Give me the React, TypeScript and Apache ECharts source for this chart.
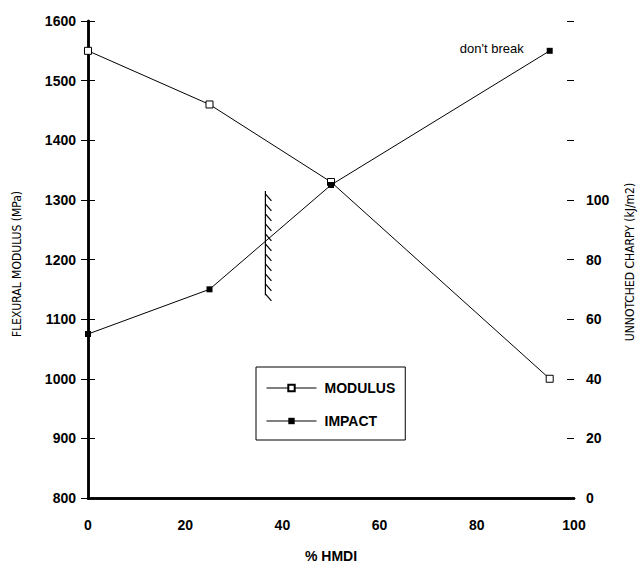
import React, { useEffect, useRef } from "react";
import * as echarts from "echarts";

const hmdi = [0, 25, 50, 95];
const modulus = [1550, 1460, 1330, 1000];
const impact = [55, 70, 105, 150];
const barrier = [[36.5, 1140, 1315]];
const breakNote = "don't break";
const leftTitle = "FLEXURAL MODULUS (MPa)";
const rightTitle = "UNNOTCHED CHARPY (kJ/m2)";

const FONT = "Liberation Sans, Arial, sans-serif";
const NARROW = "DejaVu Sans Condensed, Liberation Sans Narrow, sans-serif";

export default function App() {
  const ref = useRef<HTMLDivElement>(null);
  useEffect(() => {
    if (!ref.current) return;
    const chart = echarts.init(ref.current, null, { renderer: "svg" });
    const labelStyle = { color: "#000", fontFamily: FONT, fontWeight: "bold" as const, fontSize: 14 };
    const option: any = {
      animation: false,
      backgroundColor: "#fff",
      grid: { left: 88, right: 67, top: 21, bottom: 63, containLabel: false },
      legend: {
        left: 256,
        top: 367,
        orient: "vertical",
        data: ["MODULUS", "IMPACT"],
        itemWidth: 50,
        itemHeight: 8,
        itemGap: 19,
        borderColor: "#000",
        borderWidth: 1,
        padding: [14, 10, 12, 10],
        lineStyle: { width: 1, color: "#000" },
        textStyle: { color: "#000", fontFamily: FONT, fontWeight: "bold", fontSize: 14, padding: [0, 0, 0, 3] },
      },
      xAxis: [
        {
          type: "value",
          min: 0,
          max: 100,
          interval: 20,
          position: "bottom",
          name: "% HMDI",
          nameLocation: "middle",
          nameGap: 51,
          nameTextStyle: { ...labelStyle, fontSize: 14 },
          axisLine: { show: true, lineStyle: { color: "#000", width: 2.5 } },
          axisTick: { show: false },
          axisLabel: { ...labelStyle, margin: 20, formatter: (v: number) => String(v) },
          splitLine: { show: false },
        },
        {
          type: "value",
          min: 0,
          max: 100,
          position: "top",
          axisLine: { show: true, lineStyle: { color: "#000", width: 2.5 } },
          axisTick: { show: false },
          axisLabel: { show: false },
          splitLine: { show: false },
        },
      ],
      yAxis: [
        {
          type: "value",
          min: 800,
          max: 1600,
          interval: 100,
          position: "left",
          axisLine: { show: true, lineStyle: { color: "#000", width: 2.5 } },
          axisTick: { show: true, length: 7, lineStyle: { color: "#000", width: 1 } },
          axisLabel: { ...labelStyle, margin: 12, formatter: (v: number) => String(v) },
          splitLine: { show: false },
        },
        {
          type: "value",
          min: 0,
          max: 160,
          interval: 20,
          position: "right",
          axisLine: { show: true, lineStyle: { color: "#000", width: 2.5 } },
          axisTick: { show: true, length: 7, lineStyle: { color: "#000", width: 1 } },
          axisLabel: { ...labelStyle, margin: 12, formatter: (v: number) => (v <= 100 ? String(v) : "") },
          splitLine: { show: false },
        },
        {
          type: "value",
          min: 800,
          max: 1600,
          interval: 100,
          position: "left",
          axisLine: { show: false },
          axisTick: { show: true, inside: true, length: 7, lineStyle: { color: "#000", width: 1 } },
          axisLabel: { show: false },
          splitLine: { show: false },
        },
        {
          type: "value",
          min: 0,
          max: 160,
          interval: 20,
          position: "right",
          axisLine: { show: false },
          axisTick: { show: true, inside: true, length: 7, lineStyle: { color: "#000", width: 1 } },
          axisLabel: { show: false },
          splitLine: { show: false },
        },
      ],
      graphic: [
        {
          type: "text",
          x: 17,
          y: 264,
          rotation: Math.PI / 2,
          style: { text: leftTitle, fill: "#000", font: `12px ${NARROW}`, align: "center", verticalAlign: "middle" },
        },
        {
          type: "text",
          x: 630,
          y: 262,
          rotation: Math.PI / 2,
          style: { text: rightTitle, fill: "#000", font: `12px ${NARROW}`, align: "center", verticalAlign: "middle" },
        },
      ],
      series: [
        {
          name: "MODULUS",
          type: "line",
          xAxisIndex: 0,
          yAxisIndex: 0,
          data: hmdi.map((x, i) => [x, modulus[i]]),
          symbol: "rect",
          symbolSize: 7,
          lineStyle: { color: "#000", width: 1 },
          itemStyle: { color: "#fff", borderColor: "#000", borderWidth: 1 },
          z: 3,
        },
        {
          name: "IMPACT",
          type: "line",
          xAxisIndex: 0,
          yAxisIndex: 1,
          data: hmdi.map((x, i) =>
            i === hmdi.length - 1
              ? {
                  value: [x, impact[i]],
                  label: {
                    show: true,
                    position: "left",
                    distance: 23,
                    offset: [0, -2],
                    formatter: breakNote,
                    color: "#000",
                    fontFamily: FONT,
                    fontSize: 13,
                  },
                }
              : [x, impact[i]]
          ),
          symbol: "rect",
          symbolSize: 6,
          lineStyle: { color: "#000", width: 1 },
          itemStyle: { color: "#000", borderColor: "#000", borderWidth: 0 },
          z: 3,
        },
        {
          type: "custom",
          xAxisIndex: 0,
          yAxisIndex: 0,
          data: barrier,
          renderItem: (params: any, api: any) => {
            const x = api.value(0);
            const top = api.coord([x, api.value(2)]);
            const bot = api.coord([x, api.value(1)]);
            const children: any[] = [
              {
                type: "line",
                shape: { x1: top[0], y1: top[1], x2: bot[0], y2: bot[1] },
                style: { stroke: "#000", lineWidth: 1.2 },
              },
            ];
            for (let y = top[1] + 3; y <= bot[1] + 1; y += 10) {
              children.push({
                type: "line",
                shape: { x1: top[0], y1: y, x2: top[0] + 6, y2: y + 7 },
                style: { stroke: "#000", lineWidth: 1.2 },
              });
            }
            return { type: "group", children };
          },
          z: 2,
        },
      ],
    };
    chart.setOption(option);
    return () => chart.dispose();
  }, []);
  return <div ref={ref} style={{ position: "fixed", left: 0, top: 0, width: 641, height: 568 }} />;
}
